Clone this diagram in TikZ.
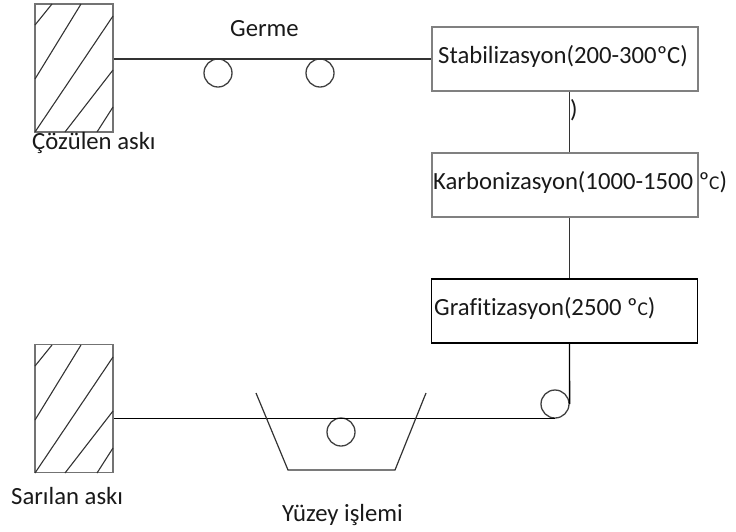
\documentclass[tikz,border=0pt]{standalone}
\usepackage{fontspec}
\setmainfont{Carlito}[Ligatures=NoCommon]
\begin{document}
\begin{tikzpicture}[x=1pt,y=-1pt,
  wire/.style={line width=1.3pt,draw=black!80},
  hanger/.style={draw=black!55,line width=1.3pt,minimum width=78pt,minimum height=128pt,inner sep=0pt},
  hatch/.style={line width=1.1pt,draw=black!80},
  stagebox/.style={line width=1.3pt,minimum width=266pt,minimum height=64pt,inner sep=0pt},
  roller/.style={circle,draw=black!75,line width=1.3pt,minimum size=28pt,inner sep=0pt},
  lbl/.style={anchor=base west,inner sep=0pt,text=black!90,font=\fontsize{24.7}{29}\selectfont}
]
\useasboundingbox (0,0) rectangle (736,531);

% spools
\node[hanger] (unwind) at (74,68) {};
\node[hanger] (rewind) at (74,408.5) {};
\foreach \oy in {4,345}{
  \begin{scope}[shift={(35,\oy)}]
    \draw[hatch] (0,21) -- (17,0);
    \draw[hatch] (0,75) -- (46,0);
    \draw[hatch] (0,128) -- (78,12);
    \draw[hatch] (30,128) -- (78,66);
    \draw[hatch] (62,128) -- (78,103);
  \end{scope}
}

% process stages
\node[stagebox,draw=black!50] (stab) at (565,59) {};
\node[stagebox,draw=black!50] (karb) at (565,185) {};
\node[stagebox,draw=black] (graf) at (564.5,311) {};

\newcommand\smallC{{\fontsize{19.5}{22}\selectfont C}}
\node[lbl] (stabtxt) at (438,63) {Stabilizasyon(200-300ºC)};
\node[lbl] (karbtxt) at (433,189) {Karbonizasyon(1000-1500 º\smallC)};
\node[lbl] (graftxt) at (434,315) {Grafitizasyon(2500 º\smallC)};

% rollers
\node[roller] (r1) at (218,73) {};
\node[roller] (r2) at (320,73) {};
\node[roller] (r3) at (341,432) {};
\node[roller] (r4) at (555,404) {};

% fibre path
\coordinate (vx) at (569.5,0);
\draw[wire] (unwind.east |- stab.west) -- (stab.west);
\draw[wire] (vx |- stab.south) -- (vx |- karb.north);
\draw[wire] (vx |- karb.south) -- (vx |- graf.north);
\draw[wire,draw=black] (vx |- graf.south) -- (r4.east);
\draw[wire,draw=black] (r4.south) -- (r4.south -| rewind.east);

% surface treatment bath
\draw[line width=1.2pt,draw=black!80] (256,393) -- (288,470) -- (395,470) -- (426,393);

% labels
\node[lbl] (germe) at (230,36) {Germe};
\node[lbl] (paren) at (570,117) {)};
\node[lbl] (ulbl) at (32,149) {Çözülen askı};
\node[lbl] (rlbl) at (11,504) {Sarılan askı};
\node[lbl] (ylbl) at (282,521) {Yüzey işlemi};
\end{tikzpicture}
\end{document}
